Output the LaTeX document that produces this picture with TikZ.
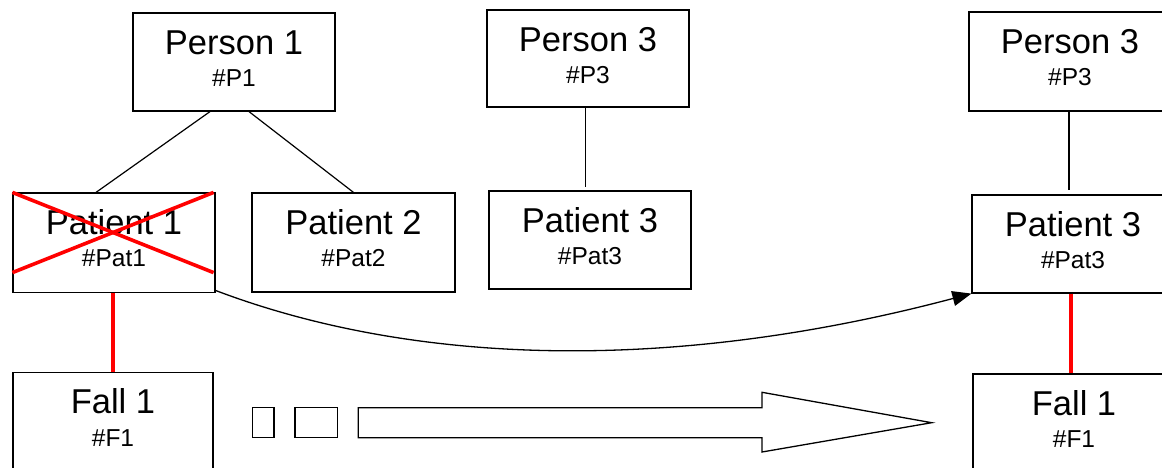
\documentclass[tikz,border=0pt]{standalone}
\usepackage{fontspec}
\setmainfont{Liberation Sans}
\usetikzlibrary{calc,arrows.meta}

\tikzset{
  cardbox/.style={draw=black, line width=1.2pt, rectangle, inner sep=0pt},
  titletext/.style={font=\fontsize{34.5}{40}\selectfont, inner sep=0pt, anchor=base},
  idtext/.style={font=\fontsize{24.5}{29}\selectfont, inner sep=0pt, anchor=base},
  link/.style={draw=black, line width=1.2pt},
  redlink/.style={draw=red, line width=3.4pt},
  cross/.style={draw=red, line width=3.6pt},
  flow/.style={draw=black, line width=1.3pt, -{Triangle[length=19pt,width=15pt]}},
  outline/.style={draw=black, line width=1.3pt, line join=miter}
}

% #1 name, #2 centre x, #3 centre y, #4 width, #5 height, #6 title, #7 identifier
\newcommand\drawcard[7]{%
  \node[cardbox, minimum width=#4pt, minimum height=#5pt] (#1) at (#2,#3) {};
  \node[titletext] (#1-t) at ($(#1.north)+(0,42)$) {#6};
  \node[idtext] (#1-i) at ($(#1.north)+(0,74.5)$) {#7};
}

\begin{document}
\begin{tikzpicture}[x=1pt, y=-1pt]
  \useasboundingbox (0,0) rectangle (1162,468);
  \clip (0,0) rectangle (1162,468);

  % left family: person with two patient records
  \drawcard{p1}{234}{62}{202}{98}{Person 1}{\#P1}
  \drawcard{pat1}{114}{242.75}{202}{99.5}{Patient 1}{\#Pat1}
  \drawcard{pat2}{353.5}{242.5}{203}{99}{Patient 2}{\#Pat2}
  \drawcard{f1}{113}{421.25}{200}{97.5}{Fall 1}{\#F1}

  % middle family
  \drawcard{p3}{588}{58.5}{202}{97}{Person 3}{\#P3}
  \drawcard{pat3}{590}{240}{202}{98}{Patient 3}{\#Pat3}

  % right family after the move
  \drawcard{p3r}{1070}{61.5}{202}{99}{Person 3}{\#P3}
  \drawcard{pat3r}{1073}{244}{202}{98}{Patient 3}{\#Pat3}
  \drawcard{f1r}{1074}{422.5}{202}{97}{Fall 1}{\#F1}

  % person-patient links
  \draw[link] ($(p1.south)+(-24,0)$) -- ($(pat1.north)+(-18,0)$);
  \draw[link] ($(p1.south)+(15,0)$) -- (pat2.north);
  \draw[link] ($(p3.south)+(-2.3,0)$) -- ($(pat3.north)+(-4.3,-3)$);
  \draw[link] ($(p3r.south)+(-1,0)$) -- ($(pat3r.north)+(-4,-4)$);

  % patient-case links
  \draw[redlink] ($(pat1.south)+(-1,0)$) -- (f1.north);
  \draw[redlink] ($(pat3r.south)+(-2,0)$) -- ($(f1r.north)+(-3,0)$);

  % crossed-out patient
  \draw[cross] (pat1.north west) -- ($(pat1.south east)+(-2,-20.5)$);
  \draw[cross] ($(pat1.south west)+(0,-20.5)$) -- ($(pat1.north east)+(-2,0)$);

  % reassignment
  \draw[flow] ($(pat1.south east)+(-1,-3)$) .. controls (414,366) and (672,373) .. (pat3r.south west);

  % block arrow with trailing blocks
  \draw[outline] (252.7,407.5) rectangle (274,437.5);
  \draw[outline] (295,407.5) rectangle (337.3,437.5);
  \draw[outline] (358.3,407.7) -- (762,407.7) -- (762,392.3) -- (931.7,422.7)
    -- (762,452) -- (762,437.7) -- (358.3,437.7) -- cycle;
\end{tikzpicture}
\end{document}
